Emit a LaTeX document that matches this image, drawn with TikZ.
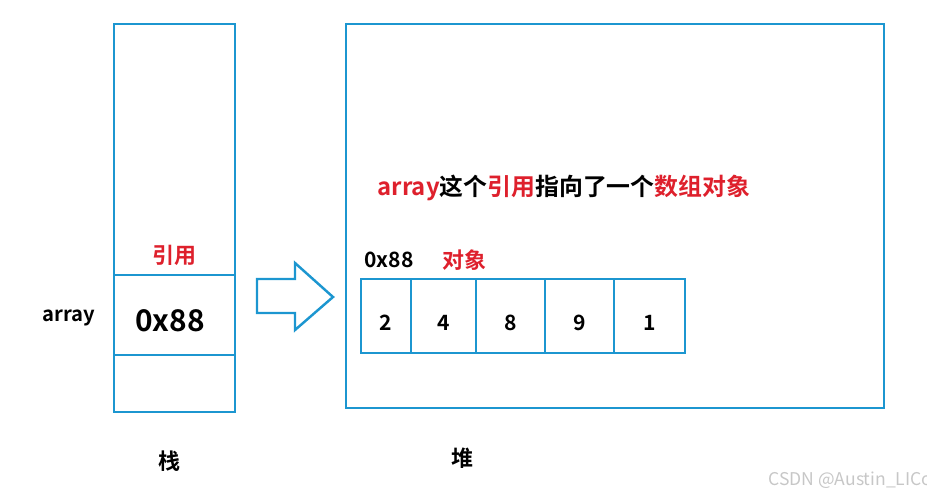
\documentclass[tikz,border=0pt]{standalone}
\usepackage{fontspec}
\setmainfont{Noto Sans CJK SC}[BoldFont={Noto Sans CJK SC Bold}]
\usepackage{tikz}
\usetikzlibrary{positioning}

\definecolor{lineblue}{RGB}{28,150,208}
\definecolor{textred}{RGB}{222,32,44}

\tikzset{
  box/.style={draw=lineblue, line width=1.4pt, outer sep=0pt, inner sep=0pt},
  cell/.style={box, minimum height=1.48cm, text height=16.6pt, text depth=0pt,
    font=\bfseries\fontsize{12}{14}\selectfont},
  lbl/.style={font=\bfseries\fontsize{12.5}{15}\selectfont, inner sep=0pt},
  redlbl/.style={lbl, text=textred}
}

\begin{document}
\begin{tikzpicture}[x=0.02cm, y=-0.02cm]
  \useasboundingbox (0,0) rectangle (927,490);

  % stack
  \node(stack) [box, minimum width=2.42cm, minimum height=7.76cm] at (174.5,218) {};
  \draw[draw=lineblue, line width=1.4pt] (stack.west |- 0,275) -- (stack.east |- 0,275);
  \draw[draw=lineblue, line width=1.4pt] (stack.west |- 0,355) -- (stack.east |- 0,355);
  \node(ref)   [redlbl] at (174,255) {引用};
  \node(addr)  [lbl, font=\bfseries\fontsize{17}{20}\selectfont] at (170,321) {0x88};
  \node(name)  [lbl, font=\bfseries\fontsize{11.5}{14}\selectfont] at (69,318) {array};
  \node(stacklbl) [lbl] at (169,461) {栈};

  % arrow
  \draw[draw=lineblue, line width=1.4pt]
    (257,279) -- (295,279) -- (295,263) -- (333,297) -- (295,330) -- (295,313) -- (257,313) -- cycle;

  % heap
  \node(heap) [box, minimum width=10.76cm, minimum height=7.68cm] at (615,216) {};
  \node(note) [lbl, font=\bfseries\fontsize{13.6}{16}\selectfont] at (564,188)
    {\textcolor{textred}{array}这个\textcolor{textred}{引用}指向了一个\textcolor{textred}{数组对象}};
  \node(objaddr) [lbl, font=\bfseries\fontsize{12}{14}\selectfont] at (389,260) {0x88};
  \node(obj)     [redlbl] at (464,260) {对象};

  % array cells
  \node(c1) [cell, minimum width=1.0cm]  at (386,316) {2};
  \node(c2) [cell, minimum width=1.3cm,  right=0pt of c1] {4};
  \node(c3) [cell, minimum width=1.38cm, right=0pt of c2] {8};
  \node(c4) [cell, minimum width=1.38cm, right=0pt of c3] {9};
  \node(c5) [cell, minimum width=1.42cm, right=0pt of c4] {1};
  \node(heaplbl) [lbl] at (462,458) {堆};

  \node(mark) [anchor=west, inner sep=0pt, text=black!22, font=\fontsize{10}{12}\selectfont] at (768,480) {CSDN @Austin\_LICo};
\end{tikzpicture}
\end{document}
